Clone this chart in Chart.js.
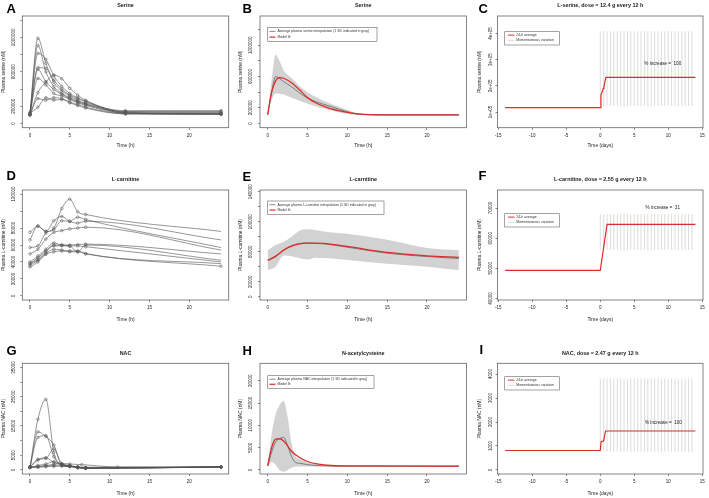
<!DOCTYPE html>
<html><head><meta charset="utf-8">
<script src="https://cdn.jsdelivr.net/npm/chart.js@4/dist/chart.umd.min.js"></script>
<style>
html,body{margin:0;padding:0;background:#fff;}
body{width:709px;height:498px;overflow:hidden;position:relative;font-family:'Liberation Sans',Arial,sans-serif;}
canvas{position:absolute;}
.lt{position:absolute;font-weight:bold;font-size:13px;line-height:13px;color:#000;font-family:'Liberation Sans',Arial,sans-serif;}
</style></head><body>
<canvas id="cA"></canvas><canvas id="cB"></canvas><canvas id="cC"></canvas>
<canvas id="cD"></canvas><canvas id="cE"></canvas><canvas id="cF"></canvas>
<canvas id="cG"></canvas><canvas id="cH"></canvas><canvas id="cI"></canvas>
<div class="lt" style="left:6.5px;top:1.5px">A</div>
<div class="lt" style="left:242.5px;top:1.5px">B</div>
<div class="lt" style="left:478.5px;top:1.5px">C</div>
<div class="lt" style="left:6.5px;top:168.5px">D</div>
<div class="lt" style="left:242.5px;top:169.5px">E</div>
<div class="lt" style="left:478.5px;top:168.5px">F</div>
<div class="lt" style="left:6.5px;top:343.5px">G</div>
<div class="lt" style="left:242.5px;top:343.5px">H</div>
<div class="lt" style="left:479.5px;top:342.5px">I</div>
<script>
// ---------------- DATA ----------------
// Panel A: plasma serine, individual subjects
const serineTimes = [0, 1, 2, 3, 4, 5, 6, 7, 12, 24];
const serineSubjects = [
  [110000, 990000, 700000, 480000, 380000, 320000, 270000, 235000, 150000, 150000],
  [120000, 905000, 600000, 430000, 350000, 300000, 260000, 225000, 140000, 140000],
  [100000, 815000, 745000, 555000, 430000, 350000, 300000, 260000, 135000, 130000],
  [130000, 648000, 640000, 505000, 400000, 330000, 290000, 250000, 130000, 120000],
  [100000, 629000, 485000, 396000, 340000, 290000, 250000, 220000, 125000, 110000],
  [110000, 524000, 447000, 349000, 320000, 280000, 240000, 210000, 120000, 115000],
  [100000, 360000, 480000, 563000, 520000, 410000, 330000, 270000, 120000, 120000],
  [100000, 290000, 272000, 300000, 290000, 250000, 220000, 190000, 115000, 110000],
  [120000, 190000, 300000, 272000, 280000, 240000, 210000, 180000, 110000, 105000]
];
// Panel B: serine average, SD band, model fit
const serineAvgTimes = [0, 0.5, 1, 1.5, 2, 3, 4, 5, 6, 7, 8, 9, 10, 11, 12, 14, 24];
const serineAvgMean  = [110000, 400000, 600000, 575000, 535000, 470000, 390000, 325000, 280000, 245000, 215000, 180000, 150000, 125000, 115000, 110000, 110000];
const serineAvgUpper = [110000, 560000, 880000, 800000, 681000, 580000, 480000, 400000, 340000, 290000, 250000, 210000, 170000, 140000, 125000, 120000, 120000];
const serineAvgLower = [110000, 300000, 383000, 380000, 370000, 330000, 290000, 255000, 220000, 190000, 165000, 140000, 120000, 110000, 105000, 100000, 100000];
const serineModel    = [110000, 400000, 545000, 585000, 578000, 520000, 430000, 330000, 265000, 220000, 185000, 160000, 140000, 125000, 115000, 110000, 110000];
// Panel C: serine simulation
const serineAvgDays  = [-14, 0, 0.1, 0.45, 0.55, 0.82, 14];
const serineAvgLevel = [117000, 117000, 165000, 190000, 197000, 232000, 232000];
const doseDays = [0, 0.5, 1, 1.5, 2, 2.5, 3, 3.5, 4, 4.5, 5, 5.5, 6, 6.5, 7, 7.5, 8, 8.5, 9, 9.5, 10, 10.5, 11, 11.5, 12, 12.5, 13, 13.5];
const serinePeak   = [409000, 409000, 409000, 409000, 409000, 409000, 409000, 409000, 409000, 409000, 409000, 409000, 409000, 409000, 409000, 409000, 409000, 409000, 409000, 409000, 409000, 409000, 409000, 409000, 409000, 409000, 409000, 409000];
const serineTrough = [123000, 123000, 123000, 123000, 123000, 123000, 123000, 123000, 123000, 123000, 123000, 123000, 123000, 123000, 123000, 123000, 123000, 123000, 123000, 123000, 123000, 123000, 123000, 123000, 123000, 123000, 123000, 123000];

// Panel D: L-carnitine individual subjects
const carnTimes = [0, 1, 2, 3, 4, 5, 6, 7, 24];
const carnSubjects = [
  [75000, 82000, 76000, 80000, 103000, 114000, 99000, 96000, 76000],
  [66000, 82600, 76000, 88500, 93600, 87700, 85800, 88000, 66000],
  [57000, 59000, 74000, 78000, 88500, 88000, 92800, 90000, 57000],
  [49500, 55000, 67000, 74800, 77000, 79000, 80000, 81000, 54000],
  [40000, 47000, 55000, 62400, 60000, 60000, 60400, 61000, 49500],
  [38000, 45000, 53000, 59000, 59000, 58500, 52000, 60000, 42000],
  [36000, 42000, 50000, 55000, 54000, 53000, 53000, 50000, 38000],
  [38000, 43000, 52000, 60000, 60000, 59000, 59000, 58000, 40000],
  [34000, 40000, 49000, 52000, 53000, 52000, 52000, 49500, 35000]
];
// Panel E: L-carnitine average
const carnAvgTimes = [0, 1, 2, 3, 4, 5, 6, 7, 10, 15, 20, 24];
const carnAvgMean  = [48000, 53000, 62000, 68000, 71000, 71500, 71000, 70500, 66000, 58000, 53500, 51000];
const carnAvgUpper = [62000, 69000, 73000, 80000, 88000, 90000, 89000, 87000, 84000, 76000, 65000, 62000];
const carnAvgLower = [35500, 40000, 55000, 54000, 51500, 49500, 52000, 51500, 49000, 44000, 40000, 35500];
const carnModel    = [48500, 54000, 62000, 67500, 70500, 71500, 71500, 71000, 67000, 59000, 54500, 52500];
// Panel F: L-carnitine simulation
const carnAvgDays  = [-14, 0, 1.0, 14];
const carnAvgLevel = [49300, 49300, 64600, 64600];
const carnPeak   = [68000, 68000, 68000, 68000, 68000, 68000, 68000, 68000, 68000, 68000, 68000, 68000, 68000, 68000, 68000, 68000, 68000, 68000, 68000, 68000, 68000, 68000, 68000, 68000, 68000, 68000, 68000, 68000];
const carnTrough = [56100, 56100, 56100, 56100, 56100, 56100, 56100, 56100, 56100, 56100, 56100, 56100, 56100, 56100, 56100, 56100, 56100, 56100, 56100, 56100, 56100, 56100, 56100, 56100, 56100, 56100, 56100, 56100];

// Panel G: NAC individual subjects
const nacTimes = [0, 1, 2, 3, 4, 5, 6, 7, 24];
const nacSubjects = [
  [900, 17300, 24100, 6000, 1700, 1300, 1000, 900, 1000],
  [800, 13000, 11400, 8500, 1600, 1200, 900, 700, 1000],
  [900, 11100, 11700, 4500, 1500, 1200, 900, 600, 1000],
  [900, 3600, 3900, 7200, 2000, 1300, 900, 600, 1000],
  [900, 3400, 4200, 2500, 1900, 1300, 800, 500, 1000],
  [800, 1500, 2000, 2800, 2000, 1500, 1000, 600, 1000],
  [900, 1000, 1300, 1500, 1600, 1300, 700, 500, 1000],
  [800, 900, 1100, 1200, 1300, 1100, 900, 700, 1000]
];
const nacTimesAlt = [0, 1, 2, 3, 4, 5, 6.5, 11, 24];
const nacSubjectAlt = [1000, 1200, 1500, 1900, 2200, 2000, 1800, 1000, 1000];
// Panel H: NAC average
const nacAvgTimes = [0, 0.5, 1, 1.5, 2, 2.5, 3, 3.5, 4, 5, 6, 8, 10, 24];
const nacAvgMean  = [900, 4000, 6300, 7000, 7300, 5500, 3000, 1700, 1500, 1200, 1000, 900, 850, 850];
const nacAvgUpper = [1000, 8000, 12500, 14500, 15500, 12000, 6000, 3000, 2500, 1700, 1300, 1000, 950, 950];
const nacAvgLower = [800, 1800, 1200, 0, -400, 0, 500, 800, 800, 800, 800, 800, 800, 800];
const nacModel    = [900, 5000, 6900, 7000, 6500, 5400, 4200, 3400, 2800, 1900, 1400, 1000, 900, 850];
// Panel I: NAC simulation
const nacAvgDays  = [-14, 0, 0.12, 0.5, 0.78, 14];
const nacAvgLevel = [810, 810, 1180, 1220, 1625, 1625];
const nacPeak   = [3820, 3820, 3820, 3820, 3820, 3820, 3820, 3820, 3820, 3820, 3820, 3820, 3820, 3820, 3820, 3820, 3820, 3820, 3820, 3820, 3820, 3820, 3820, 3820, 3820, 3820, 3820, 3820];
const nacTrough = [760, 760, 760, 760, 760, 760, 760, 760, 760, 760, 760, 760, 760, 760, 760, 760, 760, 760, 760, 760, 760, 760, 760, 760, 760, 760, 760, 760];

// Tick values and labels
const hourTicks = [0, 5, 10, 15, 20];
const hourLabels = ['0', '5', '10', '15', '20'];
const dayTicks = [-15, -10, -5, 0, 5, 10, 15];
const dayLabels = ['-15', '-10', '-5', '0', '5', '10', '15'];
const serineYTicks = [0, 200000, 400000, 600000, 800000, 1000000, 1200000];
const serineYLabels = ['0', '200000', '', '600000', '', '1000000', ''];
const serineSimYTicks = [100000, 200000, 300000, 400000];
const serineSimYLabels = ['1e+05', '2e+05', '3e+05', '4e+05'];
const carnYTicksD = [0, 20000, 40000, 60000, 80000, 100000, 120000];
const carnYLabelsD = ['0', '20000', '40000', '60000', '80000', '', '120000'];
const carnYTicksE = [0, 20000, 40000, 60000, 80000, 100000, 120000, 140000];
const carnYLabelsE = ['0', '20000', '', '60000', '', '100000', '', '140000'];
const carnSimYTicks = [40000, 50000, 60000, 70000];
const carnSimYLabels = ['40000', '50000', '60000', '70000'];
const nacYTicksG = [0, 5000, 10000, 15000, 20000, 25000, 30000, 35000];
const nacYLabelsG = ['0', '5000', '', '15000', '', '25000', '', '35000'];
const nacYTicksH = [0, 5000, 10000, 15000, 20000];
const nacYLabelsH = ['0', '5000', '10000', '15000', '20000'];
const nacSimYTicks = [0, 1000, 2000, 3000, 4000];
const nacSimYLabels = ['0', '1000', '2000', '3000', '4000'];

// ---------------- STYLE / HELPERS ----------------
const FAM = "'Liberation Sans', Arial, Helvetica, sans-serif";
const TL = 2;
const FS_TICK = 4.5, FS_AX = 4.9, FS_TITLE = 5.4, FS_LEG = 3.45, FS_NOTE = 4.6;
const RED = '#dc2d2d';
const mctx = document.createElement('canvas').getContext('2d');
function widest(labels) {
  mctx.font = 'normal ' + FS_TICK + 'px ' + FAM;
  let w = 0; labels.forEach(l => { w = Math.max(w, mctx.measureText(l).width); });
  return w;
}
function pts(xs, ys) { return ys.map((v, i) => ({x: xs[i], y: v})); }
function subjectSet(xs, ys, radiusFn) {
  return {data: pts(xs, ys), borderColor: '#505050', borderWidth: 0.6, cubicInterpolationMode: 'monotone',
    pointRadius: radiusFn || 1.3, pointBorderColor: '#5a5a5a', pointBorderWidth: 0.55,
    pointBackgroundColor: 'rgba(0,0,0,0)', fill: false};
}
function avgSets(xs, model, mean, upper, lower, redW) {
  return [
    {data: pts(xs, model), borderColor: RED, borderWidth: redW, cubicInterpolationMode: 'monotone', pointRadius: 0, fill: false},
    {data: pts(xs, mean), borderColor: '#555', borderWidth: 0.7, cubicInterpolationMode: 'monotone', pointRadius: 0, fill: false},
    {data: pts(xs, upper), borderColor: 'rgba(0,0,0,0)', borderWidth: 0, backgroundColor: '#d2d2d2', cubicInterpolationMode: 'monotone', pointRadius: 0, fill: '+1'},
    {data: pts(xs, lower), borderColor: 'rgba(0,0,0,0)', borderWidth: 0, cubicInterpolationMode: 'monotone', pointRadius: 0, fill: false}
  ];
}
function simSets(days, level, doses, lo, hi) {
  const sp = [];
  doses.forEach((d, i) => { sp.push({x: d, y: lo[i]}, {x: d, y: hi[i]}, {x: d, y: null}); });
  return [
    {data: pts(days, level), borderColor: RED, borderWidth: 1.2, pointRadius: 0, fill: false},
    {data: sp, borderColor: '#b8b8b8', borderWidth: 0.5, pointRadius: 0, fill: false, spanGaps: false}
  ];
}

const boxPlugin = {
  id: 'rbox',
  afterDraw(chart, args, o) {
    const a = chart.chartArea, ctx = chart.ctx;
    ctx.save();
    if (o.legend) {
      const L = o.legend, ox = o.ox, oy = o.oy;
      ctx.fillStyle = '#fff';
      ctx.fillRect(L.x0 - ox, L.y0 - oy, L.x1 - L.x0, L.y1 - L.y0);
      ctx.strokeStyle = '#666'; ctx.lineWidth = 0.6;
      ctx.strokeRect(L.x0 - ox, L.y0 - oy, L.x1 - L.x0, L.y1 - L.y0);
      ctx.font = 'normal ' + FS_LEG + 'px ' + FAM;
      ctx.textAlign = 'left'; ctx.textBaseline = 'middle';
      L.rows.forEach(r => {
        ctx.strokeStyle = r.color; ctx.lineWidth = r.w;
        ctx.beginPath(); ctx.moveTo(L.lx0 - ox, r.y - oy); ctx.lineTo(L.lx1 - ox, r.y - oy); ctx.stroke();
        ctx.fillStyle = '#333'; ctx.fillText(r.text, L.tx - ox, r.y - oy);
      });
    }
    if (o.note) {
      ctx.font = 'normal ' + FS_NOTE + 'px ' + FAM;
      ctx.fillStyle = '#222'; ctx.textAlign = 'center'; ctx.textBaseline = 'middle';
      ctx.fillText(o.note.text, chart.scales.x.getPixelForValue(o.note.x), chart.scales.y.getPixelForValue(o.note.y));
    }
    ctx.strokeStyle = '#666'; ctx.lineWidth = 0.8;
    ctx.strokeRect(a.left, a.top, a.right - a.left, a.bottom - a.top);
    ctx.restore();
  }
};

function makePanel(p) {
  const cv = document.getElementById(p.id);
  const [cx, cy, cw, ch] = p.rect;
  cv.width = cw; cv.height = ch;
  cv.style.left = cx + 'px'; cv.style.top = cy + 'px';
  cv.style.width = cw + 'px'; cv.style.height = ch + 'px';
  const [bl, bt, br, bb] = p.box;
  const lhT = FS_TITLE * 1.2, lhA = FS_AX * 1.2, lhK = FS_TICK * 1.2;
  const yW = bl - cx, xH = cy + ch - bb;
  const tPadTop = p.titleY - cy - lhT / 2;
  const tPadBot = bt - cy - tPadTop - lhT;
  const xTickPad = p.xLabelY - bb - TL - lhK / 2;
  const yTickPad = (bl - p.yLabelX) - TL - widest(p.yLabels) / 2;
  const yTitlePad = p.yTitleX - cx - lhA / 2;
  const xTitlePad = cy + ch - p.xTitleY - lhA / 2;
  const gridOpt = {display: true, drawOnChartArea: false, drawTicks: true, tickLength: TL, color: '#555', lineWidth: 0.7};
  new Chart(cv, {
    type: 'line',
    data: {datasets: p.datasets},
    options: {
      responsive: false, animation: false, devicePixelRatio: 1,
      layout: {padding: {left: 0, top: 0, right: cx + cw - br, bottom: 0}},
      plugins: {
        legend: {display: false}, tooltip: {enabled: false},
        title: {display: true, text: p.title, fullSize: false, color: '#222',
          font: {family: FAM, size: FS_TITLE, weight: 'bold', lineHeight: 1.2},
          padding: {top: tPadTop, bottom: tPadBot}},
        filler: {propagate: false, drawTime: 'beforeDatasetsDraw'},
        rbox: {legend: p.legend || null, note: p.note || null, ox: cx, oy: cy}
      },
      scales: {
        x: {type: 'linear', min: p.xMin, max: p.xMax,
          afterBuildTicks: s => { s.ticks = p.xTicks.map(v => ({value: v})); },
          afterFit: s => { s.height = xH; },
          grid: gridOpt, border: {display: false},
          ticks: {autoSkip: false, maxRotation: 0, minRotation: 0, padding: xTickPad, color: '#222',
            font: {family: FAM, size: FS_TICK}, callback: v => p.xLabels[p.xTicks.indexOf(v)]},
          title: {display: true, text: p.xTitle, color: '#222', font: {family: FAM, size: FS_AX},
            padding: {top: 0, bottom: xTitlePad}}},
        y: {type: 'linear', min: p.yMin, max: p.yMax,
          afterBuildTicks: s => { s.ticks = p.yTicks.map(v => ({value: v})); },
          afterFit: s => { s.width = yW; },
          grid: gridOpt, border: {display: false},
          ticks: {autoSkip: false, minRotation: 90, maxRotation: 90, crossAlign: 'center', padding: yTickPad,
            color: '#222', font: {family: FAM, size: FS_TICK}, callback: v => p.yLabels[p.yTicks.indexOf(v)]},
          title: {display: true, text: p.yTitle, color: '#222', font: {family: FAM, size: FS_AX},
            padding: {top: yTitlePad, bottom: 0}}}
      }
    },
    plugins: [boxPlugin]
  });
}

// ---------------- LAYOUT ----------------
const COLS = [
  {rx: 0, rw: 236, bl: 22.3, br: 228.7, yLabelX: 13.3, yTitleX: 3.3},
  {rx: 236, rw: 236, bl: 260, br: 466.5, yLabelX: 251, yTitleX: 241},
  {rx: 472, rw: 237, bl: 497.5, br: 703, yLabelX: 490.3, yTitleX: 479.5}
];
const ROWS = [
  {ry: 0, rh: 165, bt: 16, bb: 127.7, titleY: 6, xLabelY: 135.7, xTitleY: 145.7},
  {ry: 165, rh: 165, bt: 190, bb: 300, titleY: 180, xLabelY: 308, xTitleY: 319.3},
  {ry: 330, rh: 168, bt: 363.3, bb: 474, titleY: 353.3, xLabelY: 481.7, xTitleY: 493.3}
];
function geo(c, r) {
  const C = COLS[c], R = ROWS[r];
  return {rect: [C.rx, R.ry, C.rw, R.rh], box: [C.bl, R.bt, C.br, R.bb], titleY: R.titleY,
    xLabelY: R.xLabelY, xTitleY: R.xTitleY, yLabelX: C.yLabelX, yTitleX: C.yTitleX};
}
const hourX = {xMin: -0.96, xMax: 24.96, xTicks: hourTicks, xLabels: hourLabels, xTitle: 'Time (h)'};
const dayX = {xMin: -15.12, xMax: 15.12, xTicks: dayTicks, xLabels: dayLabels, xTitle: 'Time (days)'};
function simLegend(y0) {
  return {x0: 504.7, x1: 559.3, y0: y0, y1: y0 + 13.3, lx0: 508, lx1: 514.5, tx: 516.3,
    rows: [{text: '24-h average', color: RED, w: 1.0, y: y0 + 3.4}, {text: 'Momentaneous variation', color: '#b8b8b8', w: 0.6, y: y0 + 8.6}]};
}
function avgLegend(x1, y0, h, text) {
  return {x0: 267.7, x1: x1, y0: y0, y1: y0 + h, lx0: 269.5, lx1: 275.5, tx: 277.5,
    rows: [{text: text, color: '#555', w: 0.7, y: y0 + h * 0.28}, {text: 'Model fit', color: RED, w: 1.2, y: y0 + h * 0.68}]};
}

// A
makePanel(Object.assign(geo(0, 0), hourX, {id: 'cA', title: 'Serine', yTitle: 'Plasma serine (nM)',
  yMin: -48000, yMax: 1248000, yTicks: serineYTicks, yLabels: serineYLabels,
  datasets: serineSubjects.map(s => subjectSet(serineTimes, s))}));
// B
makePanel(Object.assign(geo(1, 0), hourX, {id: 'cB', title: 'Serine', yTitle: 'Plasma serine (nM)',
  yMin: -55000, yMax: 1375000, yTicks: serineYTicks, yLabels: serineYLabels,
  datasets: avgSets(serineAvgTimes, serineModel, serineAvgMean, serineAvgUpper, serineAvgLower, 1.3),
  legend: avgLegend(377, 27.3, 14.4, 'Average plasma serine interpolation (1 SD indicated in gray)')}));
// C
makePanel(Object.assign(geo(2, 0), dayX, {id: 'cC', title: 'L-serine, dose = 12.4 g every 12 h', yTitle: 'Plasma serine (nM)',
  yMin: 40000, yMax: 467000, yTicks: serineSimYTicks, yLabels: serineSimYLabels,
  datasets: simSets(serineAvgDays, serineAvgLevel, doseDays, serineTrough, serinePeak),
  legend: simLegend(31.7), note: {text: '% increase =  100', x: 9.2, y: 283500}}));
// D
makePanel(Object.assign(geo(0, 1), hourX, {id: 'cD', title: 'L-carnitine', yTitle: 'Plasma L-carnitine (nM)',
  yMin: -4800, yMax: 124800, yTicks: carnYTicksD, yLabels: carnYLabelsD,
  datasets: carnSubjects.map((s, k) => subjectSet(carnTimes, s,
    k === carnSubjects.length - 1 ? 1.3 : (ctx => (ctx.raw && ctx.raw.x > 7) ? 0 : 1.3)))}));
// E
makePanel(Object.assign(geo(1, 1), hourX, {id: 'cE', title: 'L-carnitine', yTitle: 'Plasma L-carnitine (nM)',
  yMin: -4500, yMax: 142300, yTicks: carnYTicksE, yLabels: carnYLabelsE,
  datasets: avgSets(carnAvgTimes, carnModel, carnAvgMean, carnAvgUpper, carnAvgLower, 1.3),
  legend: avgLegend(384, 201, 13.3, 'Average plasma L-carnitine interpolation (1 SD indicated in gray)')}));
// F
makePanel(Object.assign(geo(2, 1), dayX, {id: 'cF', title: 'L-carnitine, dose = 2.55 g every 12 h', yTitle: 'Plasma L-carnitine (nM)',
  yMin: 39500, yMax: 76000, yTicks: carnSimYTicks, yLabels: carnSimYLabels,
  datasets: simSets(carnAvgDays, carnAvgLevel, doseDays, carnTrough, carnPeak),
  legend: simLegend(213.7), note: {text: '% increase =  31', x: 9.2, y: 70100}}));
// G
const gSets = nacSubjects.map(s => subjectSet(nacTimes, s));
gSets.push(subjectSet(nacTimesAlt, nacSubjectAlt));
makePanel(Object.assign(geo(0, 2), hourX, {id: 'cG', title: 'NAC', yTitle: 'Plasma NAC (nM)',
  yMin: -1400, yMax: 36400, yTicks: nacYTicksG, yLabels: nacYLabelsG, datasets: gSets}));
// H
makePanel(Object.assign(geo(1, 2), hourX, {id: 'cH', title: 'N-acetylcysteine', yTitle: 'Plasma NAC (nM)',
  yMin: -900, yMax: 23900, yTicks: nacYTicksH, yLabels: nacYLabelsH,
  datasets: avgSets(nacAvgTimes, nacModel, nacAvgMean, nacAvgUpper, nacAvgLower, 1.3),
  legend: avgLegend(374, 375.7, 12.6, 'Average plasma NAC interpolation (1 SD indicated in gray)')}));
// I
makePanel(Object.assign(geo(2, 2), dayX, {id: 'cI', title: 'NAC, dose = 2.47 g every 12 h', yTitle: 'Plasma NAC (nM)',
  yMin: -170, yMax: 4450, yTicks: nacSimYTicks, yLabels: nacSimYLabels,
  datasets: simSets(nacAvgDays, nacAvgLevel, doseDays, nacTrough, nacPeak),
  legend: simLegend(376.7), note: {text: '% increase =  100', x: 9.3, y: 1970}}));
</script>
</body></html>
